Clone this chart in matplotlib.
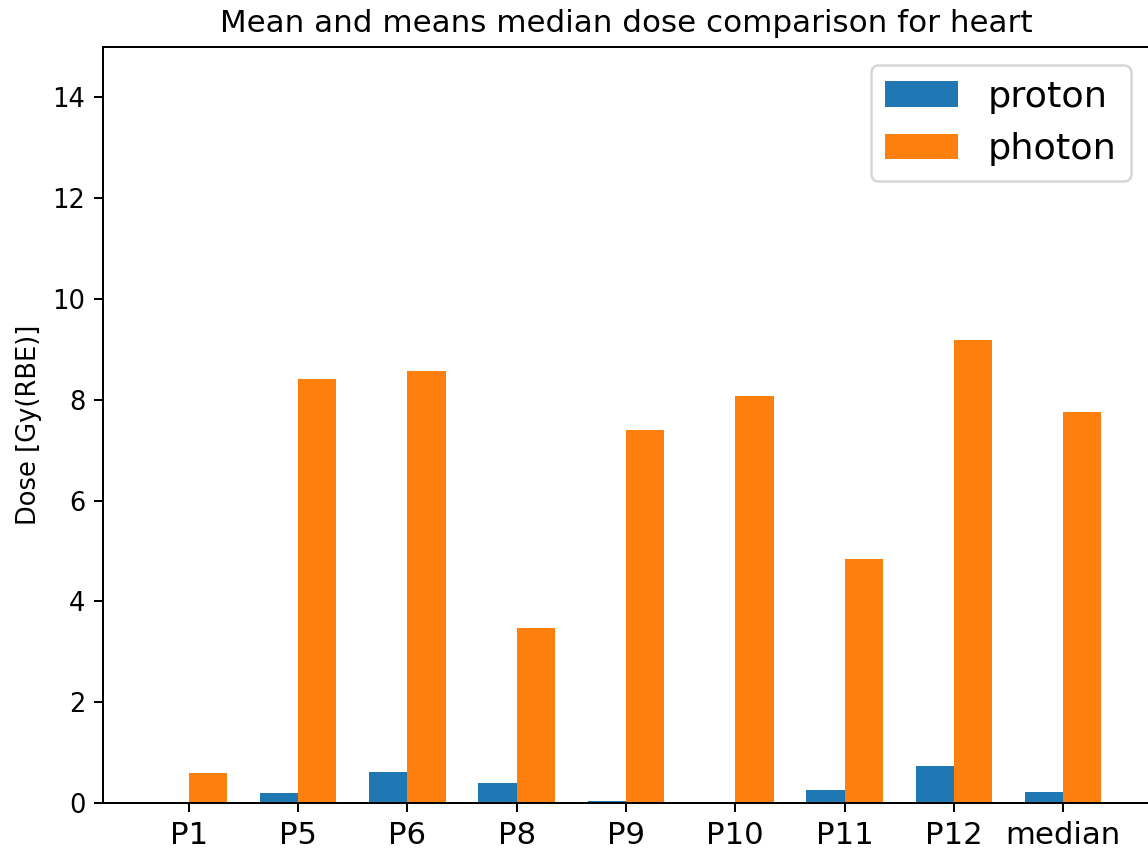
import numpy as np
import matplotlib
matplotlib.use("Agg")
import matplotlib.pyplot as plt

patients = ["P1", "P5", "P6", "P8", "P9", "P10", "P11", "P12", "median"]
proton = [0.0, 0.19, 0.62, 0.40, 0.03, 0.0, 0.26, 0.74, 0.22]
photon = [0.59, 8.41, 8.57, 3.47, 7.40, 8.07, 4.84, 9.18, 7.75]

dpi = 180
fig = plt.figure(figsize=(1148 / dpi, 852 / dpi), dpi=dpi)
ax = fig.add_axes([0.0897, 0.0575, 0.9112, 0.8873])

x = np.arange(len(patients))
width = 0.35
ax.bar(x - width / 2, proton, width, label="proton", color="#1f77b4")
ax.bar(x + width / 2, photon, width, label="photon", color="#ff7f0e")

ax.set_ylim(0, 15)
ax.set_xticks(x)
ax.set_xticklabels(patients, fontsize=12.3)
ax.tick_params(axis="y", labelsize=10.3)
ax.set_ylabel("Dose [Gy(RBE)]", fontsize=10.3)
ax.set_title("Mean and means median dose comparison for heart", fontsize=12.4)
ax.legend(loc="upper right", fontsize=14.6)

fig.savefig("out.png", dpi=dpi)
